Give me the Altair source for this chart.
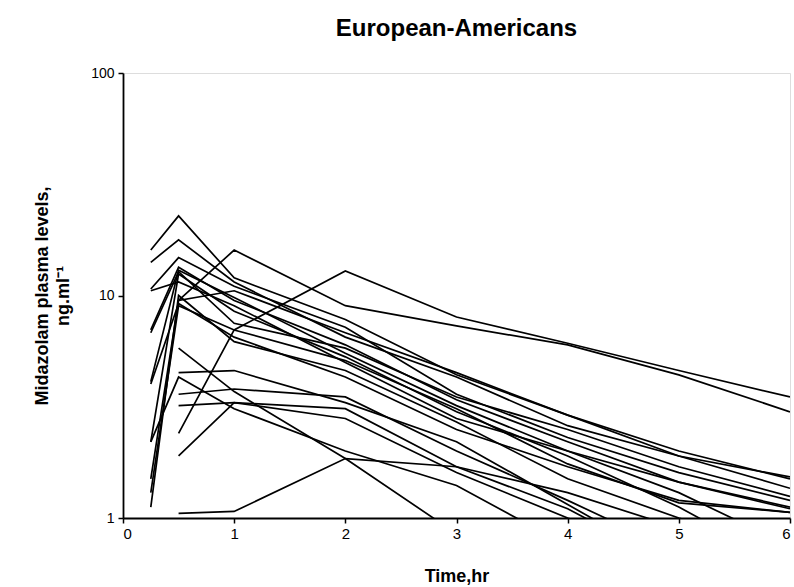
import altair as alt
import pandas as pd

# sampling times (hr)
times = [0.25, 0.5, 1, 2, 3, 4, 5, 6]

# midazolam plasma levels (ng/ml) per subject; None = not sampled
s01 = [16.0, 22.8, 12.0, 7.8, 4.4, 2.9, 2.0, 1.5]
s02 = [14.1, 17.8, 11.5, 6.5, 4.3, 2.6, 1.9, 1.36]
s03 = [10.7, 14.8, 11.0, 7.2, 3.6, 2.3, 1.6, 1.2]
s04 = [7.0, 13.4, 9.5, 6.0, 3.4, 2.2, 1.45, 1.1]
s05 = [4.1, 13.0, 9.8, 5.5, 3.2, 2.0, 1.3, 0.75]
s06 = [2.2, 12.5, 8.5, 5.3, 3.0, 1.9, 1.12, 0.6]
s07 = [1.5, 9.5, 10.5, 6.8, 4.5, 2.9, 1.9, 1.53]
s08 = [1.3, 9.0, 7.0, 5.1, 3.1, 1.75, 1.17, 1.06]
s09 = [1.12, 10.0, 6.2, 4.6, 2.7, 1.5, 1.0, 0.7]
s10 = [None, 9.5, 16.0, 9.0, 7.3, 6.0, 4.4, 3.0]
s11 = [None, 2.4, 7.0, 12.9, 8.0, 6.1, 4.6, 3.5]
s12 = [None, 5.8, 3.7, 1.85, 0.85, None, None, None]
s13 = [None, 4.5, 4.6, 3.3, 2.2, 1.15, 0.6, None]
s14 = [None, 3.6, 3.8, 3.5, 2.0, 1.2, 0.7, None]
s15 = [None, 3.2, 3.3, 3.1, 1.7, 1.1, 0.6, None]
s16 = [None, 1.05, 1.07, 1.85, 1.7, 1.3, 0.9, None]
s17 = [None, 1.9, 3.3, 2.8, 1.6, 1.0, 0.65, None]
s18 = [2.2, 4.3, 3.1, 2.0, 1.4, 0.75, None, None]
s19 = [6.8, 12.8, 7.5, 5.8, 3.5, 2.5, 1.7, 1.25]
s20 = [10.5, 11.5, 9.0, 5.0, 2.8, 2.0, 1.45, 1.12]
s21 = [4.0, 9.2, 6.5, 4.3, 2.5, 1.7, 1.2, 1.06]

subjects = [s01, s02, s03, s04, s05, s06, s07, s08, s09, s10, s11,
            s12, s13, s14, s15, s16, s17, s18, s19, s20, s21]

x_ticks = [0, 1, 2, 3, 4, 5, 6]
y_ticks = [1, 10, 100]

rows = []
for i, s in enumerate(subjects):
    for t, v in zip(times, s):
        if v is not None:
            rows.append({"subject": f"S{i + 1:02d}", "time": t, "conc": v})
df = pd.DataFrame(rows)

FONT = "Liberation Sans"

chart = alt.Chart(df).mark_line(color="black", strokeWidth=1.7, clip=True).encode(
    x=alt.X("time:Q",
            scale=alt.Scale(domain=[0, 6], nice=False, zero=False),
            axis=alt.Axis(values=x_ticks, title="Time,hr", format="d",
                          labelFontSize=15, labelFont=FONT, labelColor="black",
                          labelPadding=3, tickSize=5, tickColor="black",
                          domainColor="black", domainWidth=1.8, tickWidth=1.5,
                          titleFont=FONT, titleFontSize=18, titleFontWeight="bold",
                          titleColor="black", titlePadding=26, grid=False)),
    y=alt.Y("conc:Q",
            scale=alt.Scale(type="log", domain=[1, 100], nice=False),
            axis=alt.Axis(values=y_ticks, format="d",
                          title=["Midazolam plasma levels,", "ng.ml\u207b\u00b9"],
                          labelFontSize=14, labelFont=FONT, labelColor="black",
                          labelPadding=4, tickSize=5, tickColor="black",
                          domainColor="black", domainWidth=1.8, tickWidth=1.5,
                          titleFont=FONT, titleFontSize=18, titleFontWeight="bold",
                          titleColor="black", titlePadding=18, titleLineHeight=21,
                          grid=False)),
    detail="subject:N",
    order="time:Q",
).properties(
    width=667,
    height=445,
    title=alt.TitleParams("European-Americans", font=FONT, fontSize=24,
                          fontWeight="bold", color="black", anchor="middle",
                          offset=25),
    autosize=alt.AutoSizeParams(type="none"),
    padding={"left": 123, "top": 73, "right": 4, "bottom": 69},
).configure_view(stroke=None).configure(background="white")

chart.save("out.html", embed_options={"renderer": "svg", "actions": False})
